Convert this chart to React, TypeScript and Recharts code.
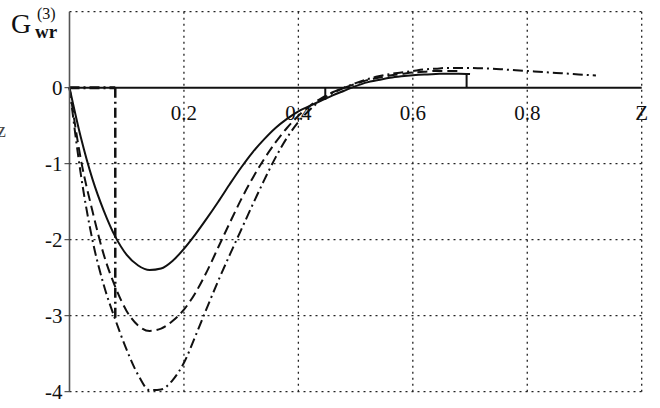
import { LineChart, Line, XAxis, YAxis, ReferenceLine, ReferenceDot } from 'recharts';

const FONT = 'Liberation Serif';
const INK = '#111';

// z grid the curves were read at
const zs = [
  0, 0.02, 0.04, 0.06, 0.08, 0.1, 0.12, 0.14, 0.16, 0.18, 0.2, 0.22, 0.24, 0.26, 0.28, 0.3,
  0.32, 0.34, 0.36, 0.38, 0.4, 0.42, 0.44, 0.46, 0.48, 0.5, 0.52, 0.54, 0.56, 0.58, 0.6,
  0.62, 0.64, 0.66, 0.68, 0.7, 0.72, 0.74, 0.76, 0.78, 0.8, 0.82, 0.84, 0.86, 0.88, 0.9, 0.92,
];

const solidG = [
  0, -0.66, -1.2, -1.62, -1.96, -2.2, -2.34, -2.4, -2.38, -2.28, -2.12, -1.93, -1.72, -1.5,
  -1.27, -1.05, -0.85, -0.68, -0.53, -0.41, -0.31, -0.24, -0.17, -0.1, -0.04, 0.02, 0.07,
  0.1, 0.13, 0.15, 0.165, 0.175, 0.18, 0.185, 0.185, 0.18,
];
const dashedG = [
  0, -0.95, -1.62, -2.2, -2.62, -2.94, -3.13, -3.2, -3.17, -3.07, -2.92, -2.7, -2.42, -2.1,
  -1.78, -1.47, -1.19, -0.94, -0.72, -0.53, -0.37, -0.24, -0.14, -0.06, 0, 0.05, 0.1, 0.13,
  0.16, 0.18, 0.2, 0.21, 0.22, 0.22, 0.22,
];
const dashDotG = [
  0, -1.15, -2.0, -2.6, -3.05, -3.45, -3.78, -3.98, -3.97, -3.85, -3.62, -3.27, -2.9, -2.54,
  -2.2, -1.87, -1.54, -1.22, -0.92, -0.66, -0.45, -0.29, -0.16, -0.07, 0, 0.06, 0.11, 0.15,
  0.18, 0.2, 0.22, 0.24, 0.25, 0.26, 0.26, 0.26, 0.255, 0.25, 0.24, 0.23, 0.22, 0.21, 0.2,
  0.19, 0.18, 0.17, 0.16,
];

const xTicks = [0.2, 0.4, 0.6, 0.8];
const xTickLabels = ['0.2', '0.4', '0.6', '0.8'];
const yTicks = [-4, -3, -2, -1, 0];
const gridZ = [0.2, 0.4, 0.6, 0.8, 1];
const gridG = [1, -1, -2, -3, -4];

// drop lines from the axis to the curves
const dashDotMark = { z: 0.08, g: -3.05 };
const solidMarks = [
  { z: 0.447, g: -0.16 },
  { z: 0.694, g: 0.18 },
];

const toRows = (vals: number[]) => vals.map((g, i) => ({ z: zs[i], g }));

const DOTTED = { stroke: '#222', strokeWidth: 1.3, strokeDasharray: '2 4' };
const LABEL = { position: 'bottom' as const, offset: 16, fontSize: 21, fontFamily: FONT, fill: INK, style: { fontFamily: FONT } };

export default function App() {
  return (
    <div style={{ position: 'absolute', left: 0, top: 0, width: 660, height: 408, background: '#fff', fontFamily: FONT }}>
      <LineChart width={660} height={408} margin={{ top: 11.7, right: 18.3, bottom: 16.3, left: 0 }} style={{ fontFamily: FONT }}>
        <XAxis type="number" dataKey="z" domain={[0, 1]} hide />
        <YAxis
          type="number"
          domain={[-4, 1]}
          ticks={yTicks}
          width={69.5}
          axisLine={{ stroke: '#555', strokeWidth: 1.6 }}
          tickLine={{ stroke: '#333' }}
          tickSize={5}
          tickMargin={2}
          tick={{ fontSize: 21, fontFamily: FONT, fill: INK, style: { fontFamily: FONT } }}
          allowDataOverflow
        />

        {gridZ.map((z) => (
          <ReferenceLine key={`gz${z}`} x={z} {...DOTTED} />
        ))}
        {gridG.map((g) => (
          <ReferenceLine key={`gg${g}`} y={g} {...DOTTED} />
        ))}

        <ReferenceLine y={0} stroke={INK} strokeWidth={2} />

        <ReferenceLine
          segment={[{ x: 0, y: 0 }, { x: dashDotMark.z, y: 0 }]}
          stroke={INK}
          strokeWidth={3}
          strokeDasharray="10 4 2 4"
        />
        <ReferenceLine
          segment={[{ x: dashDotMark.z, y: 0 }, { x: dashDotMark.z, y: dashDotMark.g }]}
          stroke={INK}
          strokeWidth={2.5}
          strokeDasharray="10 4 2 4"
        />
        {solidMarks.map((m) => (
          <ReferenceLine
            key={`m${m.z}`}
            segment={[{ x: m.z, y: 0 }, { x: m.z, y: m.g }]}
            stroke={INK}
            strokeWidth={2}
          />
        ))}

        <Line
          data={toRows(solidG)}
          dataKey="g"
          type="monotone"
          stroke={INK}
          strokeWidth={2}
          dot={false}
          isAnimationActive={false}
        />
        <Line
          data={toRows(dashedG)}
          dataKey="g"
          type="monotone"
          stroke={INK}
          strokeWidth={2}
          strokeDasharray="10 5"
          dot={false}
          isAnimationActive={false}
        />
        <Line
          data={toRows(dashDotG)}
          dataKey="g"
          type="monotone"
          stroke={INK}
          strokeWidth={2}
          strokeDasharray="10 4 2 4"
          dot={false}
          isAnimationActive={false}
        />

        {xTicks.map((z, i) => (
          <ReferenceDot key={`t${z}`} x={z} y={0} r={1} fill="none" stroke="none" label={{ value: xTickLabels[i], ...LABEL }} />
        ))}
        <ReferenceDot x={1} y={0} r={1} fill="none" stroke="none" label={{ value: 'Z', ...LABEL }} />
      </LineChart>

      <span style={{ position: 'absolute', left: 11, top: 10, fontSize: 28, lineHeight: '28px', color: INK }}>G</span>
      <span style={{ position: 'absolute', left: 37, top: 7, fontSize: 16, lineHeight: '14px', color: INK }}>(3)</span>
      <span style={{ position: 'absolute', left: 35, top: 25, fontSize: 19, lineHeight: '14px', fontWeight: 'bold', color: INK }}>wr</span>
      <span style={{ position: 'absolute', left: -3, top: 120, fontSize: 20, lineHeight: '20px', color: '#444' }}>z</span>
    </div>
  );
}
